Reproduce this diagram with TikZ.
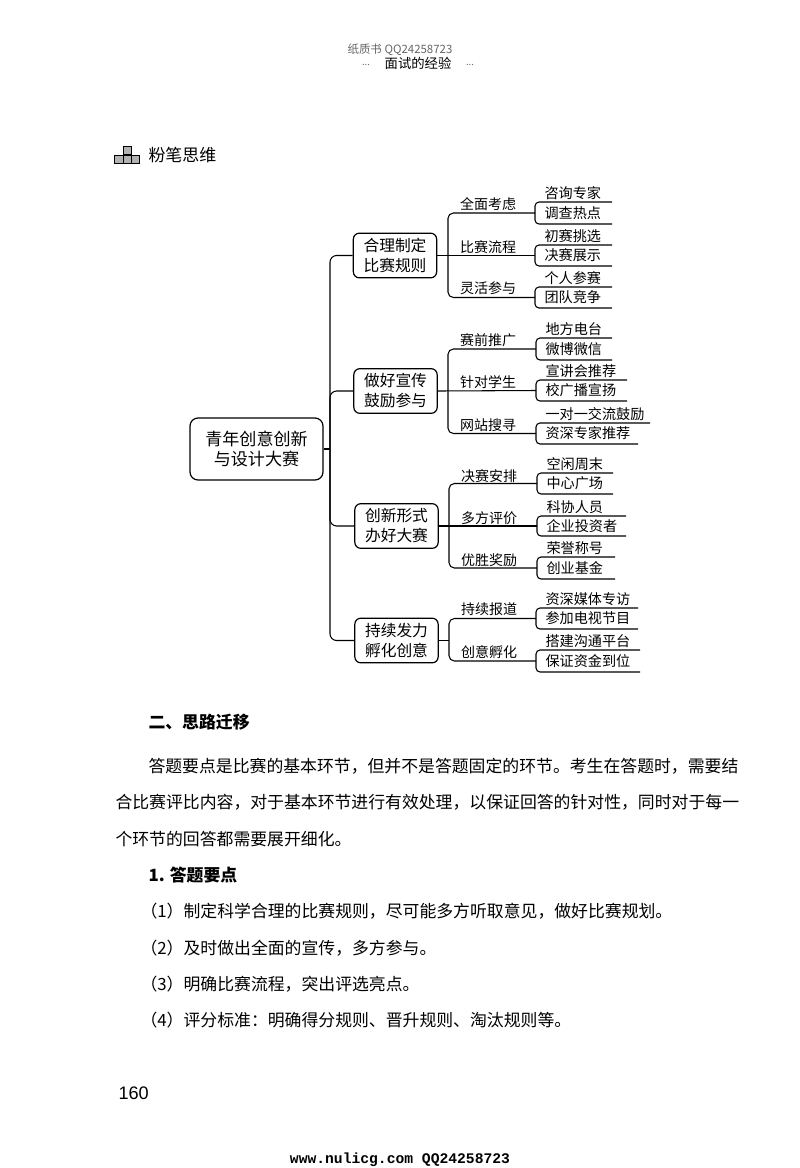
\documentclass[tikz,border=0pt]{standalone}
\usepackage{fontspec}
\setmainfont{Noto Sans CJK SC}
\newfontfamily\numfont{Liberation Sans}
\newfontfamily\urlfont{Liberation Mono}
\newcommand{\pxfont}[1]{\fontsize{#1}{15pt}\selectfont}
% open bracket holding two leaf texts
\newcommand{\leafpair}[8]{%
  \coordinate (#1-tr) at (#5,#3);
  \coordinate (#1-tl) at (#2,#3);
  \coordinate (#1-bl) at (#2,#4);
  \coordinate (#1-br) at (#6,#4);
  \coordinate (#1) at (#2,{(#3+#4)/2});
  \draw[rounded corners=3pt] (#1-tr) -- (#1-tl) -- (#1-bl) -- (#1-br);
  \node[leaftext,anchor=west] (#1-up) at (#2+9,#3-9) {#7};
  \node[leaftext,anchor=west] (#1-low) at (#2+9,{(#3+#4)/2}) {#8};
}
\tikzset{
  rootbox/.style={draw,rounded corners=6pt,line width=0.9pt,minimum width=99.75pt,minimum height=46.5pt,align=center,font=\pxfont{12.8pt},inner sep=0pt},
  mainbox/.style={draw,rounded corners=4.5pt,line width=0.9pt,minimum width=62.5pt,minimum height=33.5pt,align=center,font=\pxfont{11.8pt},inner sep=0pt},
  midtext/.style={font=\pxfont{10.5pt},inner sep=0pt},
  leaftext/.style={font=\pxfont{10.6pt},inner sep=0pt},
  bodytext/.style={anchor=west,font=\pxfont{12.64pt},inner sep=0pt},
  headtext/.style={anchor=west,font=\pxfont{12.64pt}\bfseries,inner sep=0pt},
  iconbox/.style={draw,fill=black!30,line width=0.5pt,minimum width=6.2pt,minimum height=6.2pt,inner sep=0pt}
}

\begin{document}
\begin{tikzpicture}[x=0.75pt,y=-0.75pt,line width=0.8pt]
  \useasboundingbox (0,0) rectangle (800,1168);
  % page head
  \node[font=\pxfont{8.6pt},text=black!60,inner sep=0pt] (headbook) at (400,50) {纸质书 QQ24258723};
  \node[font=\pxfont{10pt},inner sep=0pt] (headtitle) at (418,63) {面试的经验};
  \node[font=\pxfont{7pt},text=black!60,inner sep=0pt] (headleft) at (366,65) {...};
  \node[font=\pxfont{7pt},text=black!60,inner sep=0pt] (headright) at (470,65) {...};
  % icon and heading
  \node[iconbox] (icontop) at (127,150.5) {};
  \node[iconbox] (iconmid) at (127,159) {};
  \node[iconbox] (iconleft) at (118.8,159) {};
  \node[iconbox] (iconright) at (135.2,159) {};
  \node[anchor=west,font=\pxfont{12.7pt},inner sep=0pt] (chalk) at (148,155) {粉笔思维};
  % root and main boxes
  \node[rootbox] (root) at (256.5,449) {青年创意创新\\与设计大赛};
  \node[mainbox] (rules) at (395,255.5) {合理制定\\比赛规则};
  \node[mainbox] (promo) at (395.5,391) {做好宣传\\鼓励参与};
  \node[mainbox] (forms) at (396.5,526) {创新形式\\办好大赛};
  \node[mainbox] (incub) at (396.5,640.5) {持续发力\\孵化创意};
  \coordinate (trunk) at (330,449);
  \draw (root.east) -- (trunk);
  \draw[rounded corners=5pt] (rules.west) -| (trunk) |- (incub.west);
  \draw[rounded corners=5pt] (promo.west) -| (trunk) |- (forms.west);
  % leaf brackets
  \foreach \nm/\xl/\yt/\yb/\xa/\xb/\ta/\tb in {
    la/535/202/224/612/612/咨询专家/调查热点,
    lb/535/245/266/612/612/初赛挑选/决赛展示,
    lc/535/287/308/612/612/个人参赛/团队竞争,
    ld/536/338/360/612/612/地方电台/微博微信,
    le/536/380/401/627/627/宣讲会推荐/校广播宣扬,
    lf/536/423/444/650/638/一对一交流鼓励/资深专家推荐,
    lg/537/473/494/613/613/空闲周末/中心广场,
    lh/537/516/536/626/626/科协人员/企业投资者,
    li/537/557/579/615/615/荣誉称号/创业基金,
    lj/536/608/629/638/638/资深媒体专访/参加电视节目,
    lk/536/650/672/640/640/搭建沟通平台/保证资金到位} {
    \leafpair{\nm}{\xl}{\yt}{\yb}{\xa}{\xb}{\ta}{\tb}
  }
  % second level brackets
  \coordinate (rulesbar) at (448,255.5);
  \coordinate (promobar) at (448,391);
  \coordinate (formsbar) at (449,526);
  \coordinate (incubbar) at (449,640.5);
  \draw (rules.east) -- (lb);
  \draw (promo.east) -- (le);
  \draw (forms.east) -- (lh);
  \draw (incub.east) -- (incubbar);
  \draw[rounded corners=4pt] (la) -| (rulesbar) |- (lc);
  \draw[rounded corners=4pt] (ld) -| (promobar) |- (lf);
  \draw[rounded corners=4pt] (lg) -| (formsbar) |- (li);
  \draw[rounded corners=4pt] (lj) -| (incubbar) |- (lk);
  \foreach \nm/\xt/\yt/\tx in {
    ma/488/204/全面考虑,mb/488/247/比赛流程,mc/488/288/灵活参与,
    md/488/340/赛前推广,me/488/382/针对学生,mf/488/425/网站搜寻,
    mg/489/476/决赛安排,mh/489/518/多方评价,mi/489/560/优胜奖励,
    mj/489/609/持续报道,mk/489/652/创意孵化} {
    \node[midtext] (\nm) at (\xt,\yt) {\tx};
  }
  % body text
  \node[headtext] (transfer) at (148,722) {二、思路迁移};
  \node[headtext] (bd) at (148,875) {1. 答题要点};
  \foreach \nm/\xt/\yt/\tx in {
    ba/148/766/答题要点是比赛的基本环节，但并不是答题固定的环节。考生在答题时，需要结,
    bb/115/802/合比赛评比内容，对于基本环节进行有效处理，以保证回答的针对性，同时对于每一,
    bc/115/839/个环节的回答都需要展开细化。,
    be/140/911/（1）制定科学合理的比赛规则，尽可能多方听取意见，做好比赛规划。,
    bf/140/948/（2）及时做出全面的宣传，多方参与。,
    bg/140/984/（3）明确比赛流程，突出评选亮点。,
    bh/140/1020/（4）评分标准：明确得分规则、晋升规则、淘汰规则等。} {
    \node[bodytext] (\nm) at (\xt,\yt) {\tx};
  }
  % page foot
  \node[anchor=west,font=\numfont\pxfont{13.6pt},inner sep=0pt] (pageno) at (118,1093) {160};
  \node[font=\urlfont\bfseries\pxfont{11pt},inner sep=0pt] (footurl) at (400,1160) {www.nulicg.com QQ24258723};
\end{tikzpicture}
\end{document}
